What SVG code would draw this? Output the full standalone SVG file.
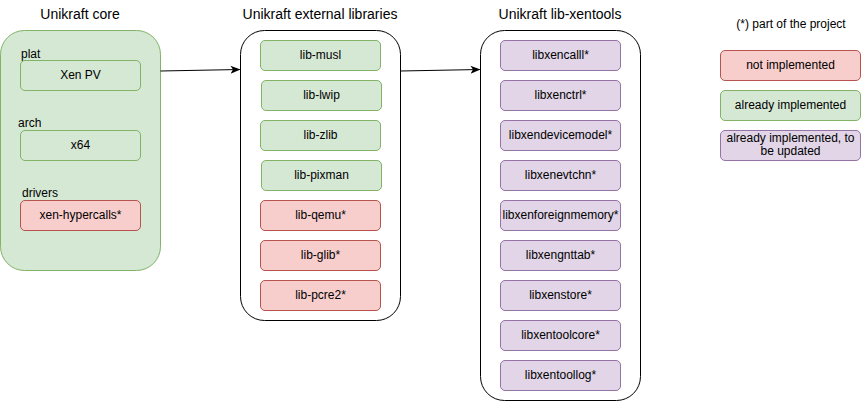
<svg xmlns="http://www.w3.org/2000/svg" width="861" height="401" viewBox="0 0 861 401">
<defs>
<style>
text{font-family:"Liberation Sans",Arial,sans-serif;font-size:12px;fill:#000}
.t{font-size:14px;text-anchor:middle}
.c{text-anchor:middle}
.g{fill:#d5e8d4;stroke:#82b366;stroke-width:1}
.r{fill:#f8cecc;stroke:#b85450;stroke-width:1}
.p{fill:#e1d5e7;stroke:#9673a6;stroke-width:1}
.w{fill:#fff;stroke:#000;stroke-width:1}
.e{fill:none;stroke:#000;stroke-width:1}
</style>
<marker id="ah" viewBox="0 0 10 10" refX="9" refY="5" markerWidth="10" markerHeight="10" markerUnits="userSpaceOnUse" orient="auto">
<path d="M0,1 L10,5 L0,9 L2.5,5 Z" fill="#000"/>
</marker>
</defs>
<rect width="861" height="401" fill="#fff"/>

<g id="core">
<text class="t" x="80" y="18.5">Unikraft core</text>
<rect class="g" x="0.5" y="30.5" width="160" height="240" rx="24"/>
<text x="21" y="58">plat</text>
<g id="xenpv"><rect class="g" x="20.5" y="60.5" width="120" height="30" rx="4.5"/><text class="c" x="80.5" y="78.5">Xen PV</text></g>
<text x="18" y="127">arch</text>
<g id="x64"><rect class="g" x="20.5" y="130.5" width="120" height="30" rx="4.5"/><text class="c" x="80.5" y="148.5">x64</text></g>
<text x="22" y="197">drivers</text>
<g id="hypercalls"><rect class="r" x="20.5" y="200.5" width="120" height="30" rx="4.5"/><text class="c" x="80.5" y="218.5">xen-hypercalls*</text></g>
</g>

<g id="extlibs">
<text class="t" x="320" y="18.5">Unikraft external libraries</text>
<rect class="w" x="240.5" y="30.5" width="160" height="290" rx="24"/>
<g id="musl"><rect class="g" x="260.5" y="40.5" width="120" height="30" rx="4.5"/><text class="c" x="320.5" y="58.5">lib-musl</text></g>
<g id="lwip"><rect class="g" x="261.5" y="80.5" width="120" height="30" rx="4.5"/><text class="c" x="321.5" y="98.5">lib-lwip</text></g>
<g id="zlib"><rect class="g" x="260.5" y="120.5" width="120" height="30" rx="4.5"/><text class="c" x="320.5" y="138.5">lib-zlib</text></g>
<g id="pixman"><rect class="g" x="261.5" y="160.5" width="120" height="30" rx="4.5"/><text class="c" x="321.5" y="178.5">lib-pixman</text></g>
<g id="qemu"><rect class="r" x="260.5" y="200.5" width="120" height="30" rx="4.5"/><text class="c" x="320.5" y="218.5">lib-qemu*</text></g>
<g id="glib"><rect class="r" x="260.5" y="240.5" width="120" height="30" rx="4.5"/><text class="c" x="320.5" y="258.5">lib-glib*</text></g>
<g id="pcre2"><rect class="r" x="260.5" y="280.5" width="120" height="30" rx="4.5"/><text class="c" x="320.5" y="298.5">lib-pcre2*</text></g>
</g>

<g id="xentools">
<text class="t" x="560" y="18.5">Unikraft lib-xentools</text>
<rect class="w" x="480.5" y="30.5" width="160" height="370" rx="24"/>
<g id="xencall"><rect class="p" x="500.5" y="40.5" width="120" height="30" rx="4.5"/><text class="c" x="560.5" y="58.5">libxencalll*</text></g>
<g id="xenctrl"><rect class="p" x="500.5" y="80.5" width="120" height="30" rx="4.5"/><text class="c" x="560.5" y="98.5">libxenctrl*</text></g>
<g id="devicemodel"><rect class="p" x="500.5" y="120.5" width="120" height="30" rx="4.5"/><text class="c" x="560.5" y="138.5">libxendevicemodel*</text></g>
<g id="evtchn"><rect class="p" x="500.5" y="160.5" width="120" height="30" rx="4.5"/><text class="c" x="560.5" y="178.5">libxenevtchn*</text></g>
<g id="foreignmemory"><rect class="p" x="500.5" y="200.5" width="120" height="30" rx="4.5"/><text class="c" x="560.5" y="218.5">libxenforeignmemory*</text></g>
<g id="gnttab"><rect class="p" x="500.5" y="240.5" width="120" height="30" rx="4.5"/><text class="c" x="560.5" y="258.5">libxengnttab*</text></g>
<g id="xenstore"><rect class="p" x="500.5" y="280.5" width="120" height="30" rx="4.5"/><text class="c" x="560.5" y="298.5">libxenstore*</text></g>
<g id="toolcore"><rect class="p" x="500.5" y="320.5" width="120" height="30" rx="4.5"/><text class="c" x="560.5" y="338.5">libxentoolcore*</text></g>
<g id="toollog"><rect class="p" x="500.5" y="360.5" width="120" height="30" rx="4.5"/><text class="c" x="560.5" y="378.5">libxentoollog*</text></g>
</g>

<g id="legend">
<text class="c" x="791" y="28">(*) part of the project</text>
<g id="leg-not"><rect class="r" x="720.5" y="50.5" width="140" height="30" rx="4.5"/><text class="c" x="790.5" y="68.5">not implemented</text></g>
<g id="leg-impl"><rect class="g" x="720.5" y="90.5" width="140" height="30" rx="4.5"/><text class="c" x="790.5" y="108.5">already implemented</text></g>
<g id="leg-upd"><rect class="p" x="720.5" y="130.5" width="140" height="30" rx="4.5"/><text class="c" x="790.5" y="142">already implemented, to</text><text class="c" x="790.5" y="154.5">be updated</text></g>
</g>

<g id="connectors">
<path class="e" d="M160.5,71 L239.5,69.5" marker-end="url(#ah)"/>
<path class="e" d="M400.5,71 L479.5,69.5" marker-end="url(#ah)"/>
</g>
</svg>
